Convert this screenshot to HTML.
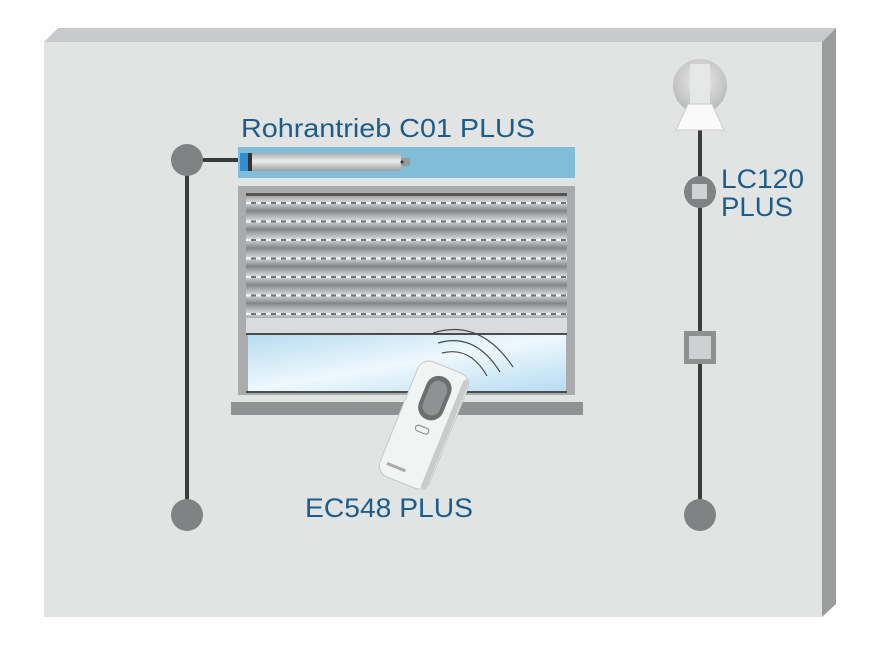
<!DOCTYPE html>
<html><head><meta charset="utf-8"><style>html,body{margin:0;padding:0;background:#fff}svg{display:block}text{font-family:"Liberation Sans",sans-serif;fill:#1a5d8c}</style></head><body>
<svg width="875" height="652" viewBox="0 0 875 652">
<defs>
<linearGradient id="slat" x1="0" y1="0" x2="0" y2="1"><stop offset="0" stop-color="#8a8c8e"/><stop offset="0.5" stop-color="#d6d8da"/><stop offset="1" stop-color="#7e8082"/></linearGradient>
<linearGradient id="glass" x1="0" y1="0" x2="1" y2="1"><stop offset="0" stop-color="#b8dcf0"/><stop offset="0.5" stop-color="#eef8fd"/><stop offset="1" stop-color="#b6dcf2"/></linearGradient>
<linearGradient id="motor" x1="0" y1="0" x2="0" y2="1"><stop offset="0" stop-color="#a9abad"/><stop offset="0.45" stop-color="#eceded"/><stop offset="1" stop-color="#9c9ea0"/></linearGradient>
<radialGradient id="lamp" cx="0.5" cy="0.4" r="0.6"><stop offset="0" stop-color="#eeeeee"/><stop offset="1" stop-color="#b8b9ba"/></radialGradient>
<pattern id="sl" x="246" y="193" width="10" height="18.5" patternUnits="userSpaceOnUse"><rect width="10" height="18.5" fill="url(#slat)"/><rect x="0" y="9" width="5" height="2" fill="#f2f8fc"/><rect x="5" y="9" width="5" height="2" fill="#6f7274"/></pattern>
</defs>
<rect width="875" height="652" fill="#fff"/>
<polygon points="44,42 58,28 836,28 822,42" fill="#c9cacb"/>
<polygon points="822,42 836,28 836,604 822,617" fill="#9a9c9d"/>
<rect x="44" y="42" width="778" height="575" fill="#e2e3e3"/>
<line x1="187" y1="160" x2="187" y2="515" stroke="#3a3c3e" stroke-width="4"/>
<line x1="187" y1="160" x2="242" y2="160" stroke="#3a3c3e" stroke-width="4"/>
<circle cx="187" cy="160" r="16" fill="#808284"/>
<circle cx="187" cy="515" r="16" fill="#808284"/>
<rect x="238" y="147" width="337" height="31" fill="#80bdd8"/>
<rect x="245" y="153" width="156" height="18" rx="2" fill="url(#motor)"/>
<rect x="240" y="153" width="8" height="18" fill="#2f8fd0"/>
<rect x="248" y="153" width="4" height="18" fill="#333"/>
<rect x="401" y="158" width="9" height="8" fill="#999"/>
<circle cx="402" cy="162" r="1.5" fill="#333"/>
<rect x="238" y="186" width="337" height="209" fill="#a9abac"/>
<rect x="246" y="193" width="321" height="125" fill="url(#sl)"/>
<rect x="246" y="193" width="321" height="3" fill="#555"/>
<rect x="246" y="318" width="321" height="15" fill="#d9dbdc"/>
<rect x="246" y="333" width="321" height="2" fill="#4a4c4e"/>
<rect x="248" y="335" width="318" height="56" fill="url(#glass)"/>
<rect x="246" y="391" width="321" height="2" fill="#4a4c4e"/>
<rect x="231" y="402" width="352" height="13" fill="#8f9192"/>
<g fill="none" stroke="#4a4c4e" stroke-width="1.2">
<path d="M433,333 Q480,318 513,367"/>
<path d="M438,343 Q475,332 500,372"/>
<path d="M442,353 Q470,346 487,376"/>
</g>
<g transform="translate(424,425) rotate(22)">
<rect x="-27" y="-62" width="54" height="124" rx="12" fill="#f2f3f3" stroke="#c8caca"/>
<rect x="20" y="-58" width="6" height="118" rx="3" fill="#c9cbcc"/>
<rect x="-13" y="-52" width="26" height="46" rx="13" fill="#6c6e70"/>
<rect x="-9" y="-47" width="18" height="36" rx="9" fill="#8f9193"/>
<rect x="-7" y="2" width="14" height="6" rx="3" fill="none" stroke="#888"/>
<rect x="-20" y="48" width="20" height="3" fill="#aaa"/>
</g>
<line x1="700" y1="128" x2="700" y2="515" stroke="#3a3c3e" stroke-width="4"/>
<circle cx="700" cy="86" r="27" fill="url(#lamp)"/>
<rect x="690" y="64" width="20" height="40" fill="#e6e7e7"/>
<polygon points="688,104 712,104 724,130 676,130" fill="#fafafa" stroke="#ccc"/>
<circle cx="700" cy="192" r="16" fill="#808284"/>
<rect x="692" y="184" width="15" height="15" fill="#cfd1d2"/>
<rect x="684" y="331" width="32" height="33" fill="#8e9091"/>
<rect x="689" y="336" width="22" height="23" fill="#cfd0d1"/>
<circle cx="700" cy="515" r="16" fill="#808284"/>
<text x="241" y="137" font-size="26" textLength="294" lengthAdjust="spacingAndGlyphs">Rohrantrieb C01 PLUS</text>
<text x="721" y="188" font-size="27" textLength="83" lengthAdjust="spacingAndGlyphs">LC120</text>
<text x="721" y="216" font-size="27" textLength="72" lengthAdjust="spacingAndGlyphs">PLUS</text>
<text x="305" y="517" font-size="27" textLength="168" lengthAdjust="spacingAndGlyphs">EC548 PLUS</text>
</svg>
</body></html>
